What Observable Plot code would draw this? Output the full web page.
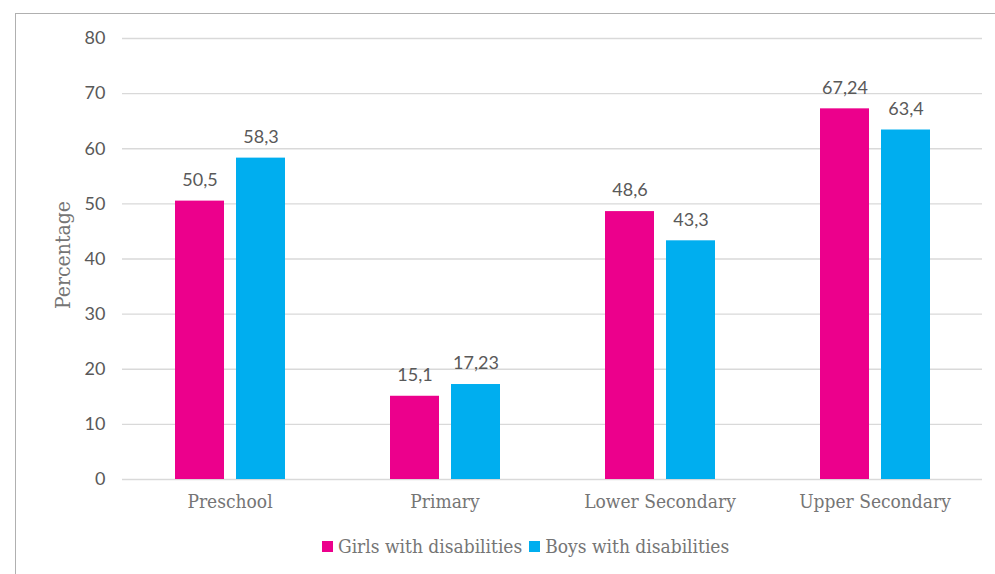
<!DOCTYPE html>
<html><head><meta charset="utf-8">
<script src="https://cdn.jsdelivr.net/npm/d3@7"></script>
<script src="https://cdn.jsdelivr.net/npm/@observablehq/plot@0.6"></script>
<style>
body{margin:0;width:995px;height:574px;overflow:hidden;position:relative;background:#fff;}
#frame{position:absolute;left:15px;top:13px;width:1100px;height:700px;border:1px solid #b0b0b0;}
#chart{position:absolute;left:0;top:0;}
#ylabel{position:absolute;left:63px;top:255px;transform:translate(-50%,-50%) rotate(-90deg);font-family:"DejaVu Serif Condensed","DejaVu Serif",serif;font-size:21px;color:#757575;white-space:nowrap;}
#legend{position:absolute;top:535px;left:322px;display:flex;align-items:center;font-family:"DejaVu Serif Condensed","DejaVu Serif",serif;font-size:19px;color:#757575;white-space:nowrap;}
#legend .sw{width:11px;height:11px;display:inline-block;margin-right:5px;}
#legend .item{display:flex;align-items:center;margin-right:7px;}
</style>
</head><body>
<div id="frame"></div>
<div id="chart"></div>
<div id="ylabel">Percentage</div>
<div id="legend"></div>
<script>
const categories = ["Preschool", "Primary", "Lower Secondary", "Upper Secondary"];
const series = ["Girls with disabilities", "Boys with disabilities"];
const girls = [50.5, 15.1, 48.6, 67.24];
const boys = [58.3, 17.23, 43.3, 63.4];
const yTicks = [0, 10, 20, 30, 40, 50, 60, 70, 80];
const colors = ["#EC008C", "#00AEEF"];

const data = categories.flatMap((c, i) => [
  {category: c, series: series[0], value: girls[i]},
  {category: c, series: series[1], value: boys[i]}
]);
const fmt = d => String(d.value).replace(".", ",");
const serif = '"DejaVu Serif Condensed","DejaVu Serif",serif';

const chart = Plot.plot({
  width: 995, height: 530,
  marginLeft: 121, marginRight: 13, marginTop: 38, marginBottom: 51,
  style: {fontFamily: "Lato", background: "transparent"},
  fx: {domain: categories, padding: 0, label: null},
  x: {domain: series, paddingInner: 0.2, paddingOuter: 0.85, axis: null},
  y: {domain: [0, 80], label: null},
  color: {domain: series, range: colors},
  marks: [
    Plot.gridY(yTicks, {stroke: "#d9d9d9", strokeOpacity: 1, strokeWidth: 1.3}),
    Plot.axisY(yTicks, {tickSize: 0, tickPadding: 17, fontSize: 18, fill: "#595959", label: null, fontFamily: "Lato"}),
    Plot.axisFx({anchor: "bottom", tickSize: 0, tickPadding: 15, fontSize: 19, fill: "#757575", label: null, fontFamily: serif}),
    Plot.barY(data, {fx: "category", x: "series", y: "value", fill: "series"}),
    Plot.text(data, {fx: "category", x: "series", y: "value", text: fmt, dy: -21, fontSize: 18, fill: "#595959", fontFamily: "Lato"})
  ]
});
document.getElementById("chart").appendChild(chart);

const legend = document.getElementById("legend");
series.forEach((s, i) => {
  const item = document.createElement("span");
  item.className = "item";
  const sw = document.createElement("span");
  sw.className = "sw";
  sw.style.background = colors[i];
  item.appendChild(sw);
  item.appendChild(document.createTextNode(s));
  legend.appendChild(item);
});
</script>
</body></html>
